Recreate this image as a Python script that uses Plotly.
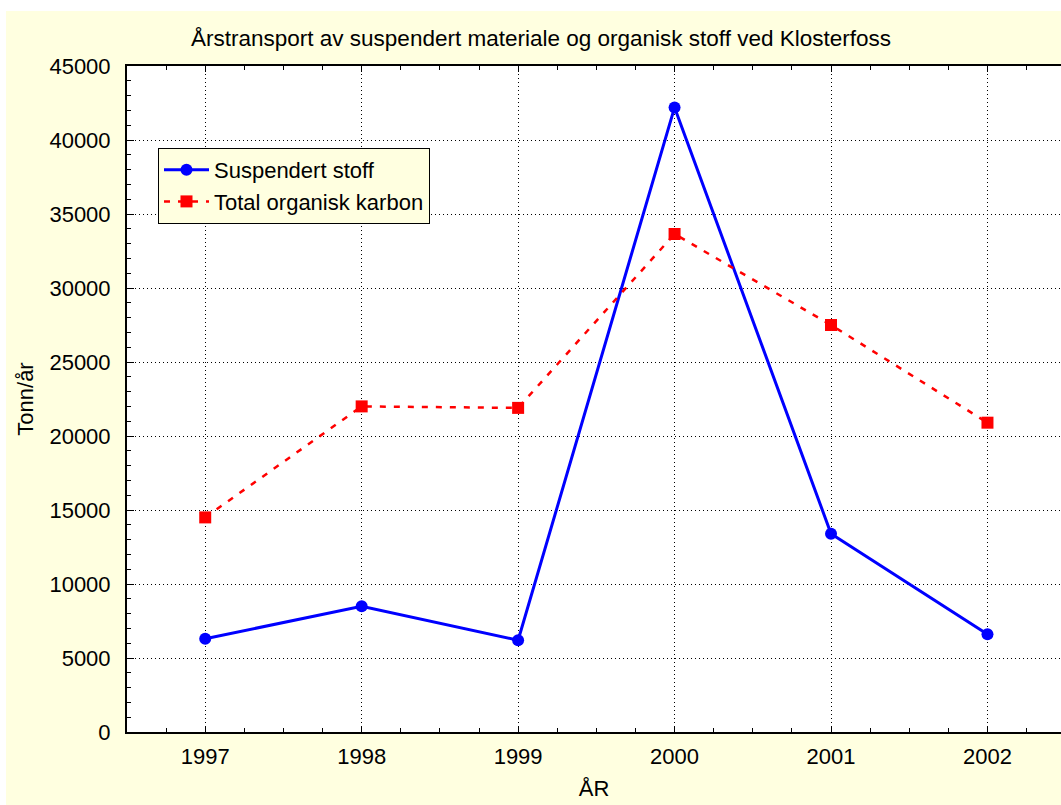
import plotly.graph_objects as go

years = [1997, 1998, 1999, 2000, 2001, 2002]
suspendert = [6300, 8500, 6200, 42200, 13400, 6600]
toc = [14500, 22000, 21900, 33650, 27500, 20900]
x_ticks = [1997, 1998, 1999, 2000, 2001, 2002]
y_ticks = [0, 5000, 10000, 15000, 20000, 25000, 30000, 35000, 40000, 45000]

W, H = 1061, 805
L, R, T, B = 127, 0, 66, 73
pw, ph = W - L - R, H - T - B
bg = "#FFFFE0"
font = "Liberation Sans, Arial, sans-serif"
FS = 22

fig = go.Figure()
fig.add_trace(go.Scatter(
    x=years, y=suspendert, name="Suspendert stoff", mode="lines+markers",
    line=dict(color="#0000FF", width=3),
    marker=dict(symbol="circle", size=12, color="#0000FF"),
))
fig.add_trace(go.Scatter(
    x=years, y=toc, name="Total organisk karbon", mode="lines+markers",
    line=dict(color="#FF0000", width=2.5, dash="6px,8px"),
    marker=dict(symbol="square", size=12, color="#FF0000"),
))

fig.update_layout(
    width=W, height=H,
    margin=dict(l=L, r=R, t=T, b=B, pad=0),
    paper_bgcolor="white", plot_bgcolor="white",
    font=dict(family=font, size=FS, color="black"),
    title=dict(text="Årstransport av suspendert materiale og organisk stoff ved Klosterfoss",
               x=541 / W, xanchor="center", y=1 - 38 / H, yanchor="middle",
               font=dict(size=22.5)),
    showlegend=True,
    legend=dict(x=(158 - L) / pw, y=(H - B - 148) / ph, xanchor="left", yanchor="top",
                bgcolor=bg, bordercolor="black", borderwidth=1,
                font=dict(size=FS), itemwidth=45, tracegroupgap=0),
    shapes=[
        dict(type="rect", xref="paper", yref="paper",
             x0=(6 - L) / pw, x1=1.0, y0=-B / ph, y1=(H - B - 11) / ph,
             fillcolor=bg, line=dict(width=0), layer="below"),
        dict(type="rect", xref="paper", yref="paper",
             x0=0, x1=1, y0=0, y1=1,
             fillcolor="white", line=dict(width=0), layer="below"),
    ],
)

fig.update_xaxes(
    range=[1996.5, 2002.47], tickvals=x_ticks, ticktext=[str(v) for v in x_ticks],
    showline=True, linecolor="black", linewidth=2, mirror="ticks",
    ticks="inside", ticklen=6, tickcolor="black", tickwidth=1,
    showgrid=True, gridcolor="black", griddash="1px,3px", gridwidth=1,
    zeroline=False, tickfont=dict(size=FS), ticklabelstandoff=4,
    minor=dict(dtick=0.25, tick0=1997, ticks="inside", ticklen=4, tickcolor="black", showgrid=False),
    title=dict(text="ÅR", font=dict(size=FS), standoff=12),
)
fig.update_yaxes(
    range=[0, 45000], tickvals=y_ticks, ticktext=[str(v) for v in y_ticks],
    showline=True, linecolor="black", linewidth=2, mirror=False,
    ticks="inside", ticklen=7, tickcolor="black", tickwidth=1,
    showgrid=True, gridcolor="black", griddash="1px,3px", gridwidth=1,
    zeroline=False, tickfont=dict(size=FS), ticklabelstandoff=10,
    minor=dict(dtick=1000, ticks="inside", ticklen=4, tickcolor="black", showgrid=False),
    title=dict(text="Tonn/år", font=dict(size=FS), standoff=10),
)

fig.write_html("out.html", config={"displayModeBar": False},
               post_script="document.body.style.margin='0';")
